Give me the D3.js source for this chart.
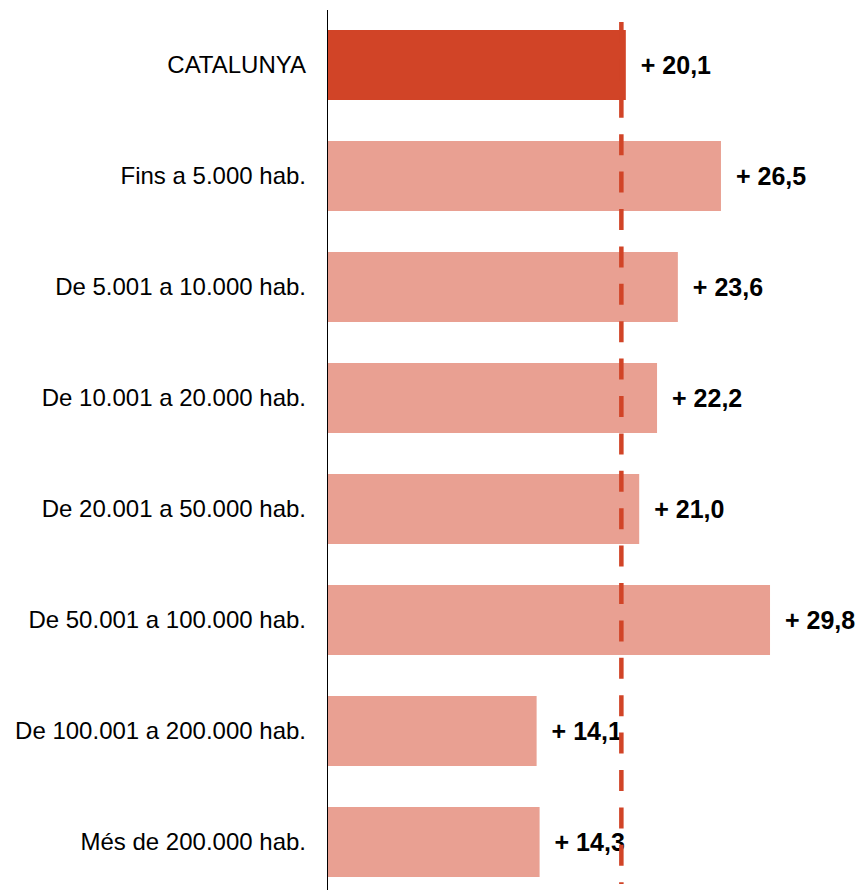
<!DOCTYPE html>
<html>
<head>
<meta charset="utf-8">
<script src="https://cdn.jsdelivr.net/npm/d3@7"></script>
<style>
    body { margin: 0; background: #fff; }
    .cat-label { font-family: Arial, "Liberation Sans", sans-serif; font-size: 24px; fill: #000; }
    .val-label { font-family: Arial, "Liberation Sans", sans-serif; font-size: 25px; font-weight: bold; fill: #000; }
</style>
</head>
<body>
<div id="chart"></div>
<script>
var categories = ["CATALUNYA", "Fins a 5.000 hab.", "De 5.001 a 10.000 hab.", "De 10.001 a 20.000 hab.",
    "De 20.001 a 50.000 hab.", "De 50.001 a 100.000 hab.", "De 100.001 a 200.000 hab.", "Més de 200.000 hab."];
var values = [20.1, 26.5, 23.6, 22.2, 21.0, 29.8, 14.1, 14.3];
var refValue = 19.8;

var w = 863,
    h = 890,
    axisX = 327;

var darkColor = "#d14427",
    lightColor = "#e9a092";

var locale = d3.formatLocale({decimal: ",", thousands: ".", grouping: [3], currency: ["", "€"]});
var fmt = locale.format(".1f");

var data = categories.map(function(c, i){ return {name: c, value: values[i]}; });

var svg = d3.select("#chart").append("svg")
    .attr("width", w)
    .attr("height", h);

var scaleX = d3.scaleLinear().domain([0, 30]).range([axisX, axisX + 446]);
var scaleY = d3.scaleBand().domain(categories).range([30, 877]).paddingInner(41 / 111).paddingOuter(0);

svg.selectAll(".bar")
    .data(data)
    .enter()
    .append("rect")
    .attr("class", "bar")
    .attr("x", scaleX(0))
    .attr("y", function(d){ return scaleY(d.name); })
    .attr("width", function(d){ return scaleX(d.value) - scaleX(0); })
    .attr("height", scaleY.bandwidth())
    .style("fill", function(d, i){ return i == 0 ? darkColor : lightColor; });

// eix vertical
svg.append("line")
    .attr("x1", axisX + 0.5)
    .attr("x2", axisX + 0.5)
    .attr("y1", 10)
    .attr("y2", h)
    .style("stroke", "#000")
    .style("stroke-width", 1);

svg.selectAll(".cat-label")
    .data(data)
    .enter()
    .append("text")
    .attr("class", "cat-label")
    .attr("x", axisX - 21)
    .attr("y", function(d){ return scaleY(d.name) + scaleY.bandwidth() / 2; })
    .attr("dy", "0.35em")
    .style("text-anchor", "end")
    .text(function(d){ return d.name; });

svg.selectAll(".val-label")
    .data(data)
    .enter()
    .append("text")
    .attr("class", "val-label")
    .attr("x", function(d){ return scaleX(d.value) + 15; })
    .attr("y", function(d){ return scaleY(d.name) + scaleY.bandwidth() / 2; })
    .attr("dy", "0.36em")
    .text(function(d){ return "+ " + fmt(d.value); });

// línia de referència
svg.append("line")
    .attr("x1", scaleX(refValue))
    .attr("x2", scaleX(refValue))
    .attr("y1", 22)
    .attr("y2", 884)
    .style("stroke", darkColor)
    .style("stroke-width", 4.5)
    .style("stroke-dasharray", "21,16.4");
</script>
</body>
</html>
